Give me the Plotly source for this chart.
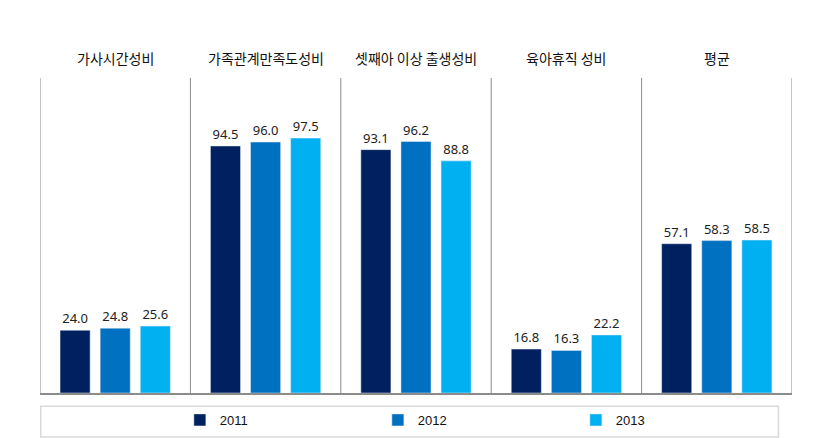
import plotly.graph_objects as go

categories = ["가사시간성비", "가족관계만족도성비", "셋째아 이상 출생성비", "육아휴직 성비", "평균"]
years = ["2011", "2012", "2013"]
values_2011 = [24.0, 94.5, 93.1, 16.8, 57.1]
values_2012 = [24.8, 96.0, 96.2, 16.3, 58.3]
values_2013 = [25.6, 97.5, 88.8, 22.2, 58.5]
colors = ["#002060", "#0070C0", "#00B0F0"]

series = [values_2011, values_2012, values_2013]
fig = go.Figure()
for yr, vals, col in zip(years, series, colors):
    fig.add_trace(go.Bar(
        x=categories, y=vals, name=yr, marker_color=col,
        text=[f"{v:.1f}" for v in vals], textposition="outside",
        textfont=dict(family="Noto Sans, Open Sans, sans-serif", size=13, color="#222"),
        cliponaxis=False,
    ))

# separators between panels
for i in range(len(categories) + 1):
    fig.add_shape(type="line", xref="x", yref="paper", x0=i - 0.5, x1=i - 0.5,
                  y0=0, y1=1, line=dict(color="#8c8c8c", width=1))

# panel titles
for c in categories:
    fig.add_annotation(x=c, xref="x", y=1, yref="paper", yanchor="bottom", yshift=8,
                       text=c, showarrow=False,
                       font=dict(family="Noto Sans CJK KR", size=14, color="#111"))

# legend frame (paper coords: plot height 315px, bottom at 0)
fig.add_shape(type="rect", xref="paper", yref="paper", x0=0.001, x1=0.982,
              y0=-0.042, y1=-0.14, line=dict(color="#d9d9d9", width=1.5))

fig.update_layout(
    width=816, height=438,
    margin=dict(l=32, r=32, t=70, b=53, autoexpand=False),
    plot_bgcolor="white", paper_bgcolor="white",
    barmode="group", bargap=0.2, bargroupgap=0.25,
    xaxis=dict(range=[-0.5, 4.5], showticklabels=False, showgrid=False,
               showline=True, linecolor="#8c8c8c", linewidth=1.5, ticks=""),
    yaxis=dict(range=[0, 120.5], visible=False),
    legend=dict(orientation="h", x=0.186, xanchor="left", y=-0.038, yanchor="top",
                entrywidth=153, entrywidthmode="pixels", itemwidth=30,
                font=dict(family="Liberation Sans Narrow, Liberation Sans, sans-serif", size=13, color="#111"),
                bgcolor="rgba(0,0,0,0)"),
    showlegend=True,
)

fig.write_html("out.html")
